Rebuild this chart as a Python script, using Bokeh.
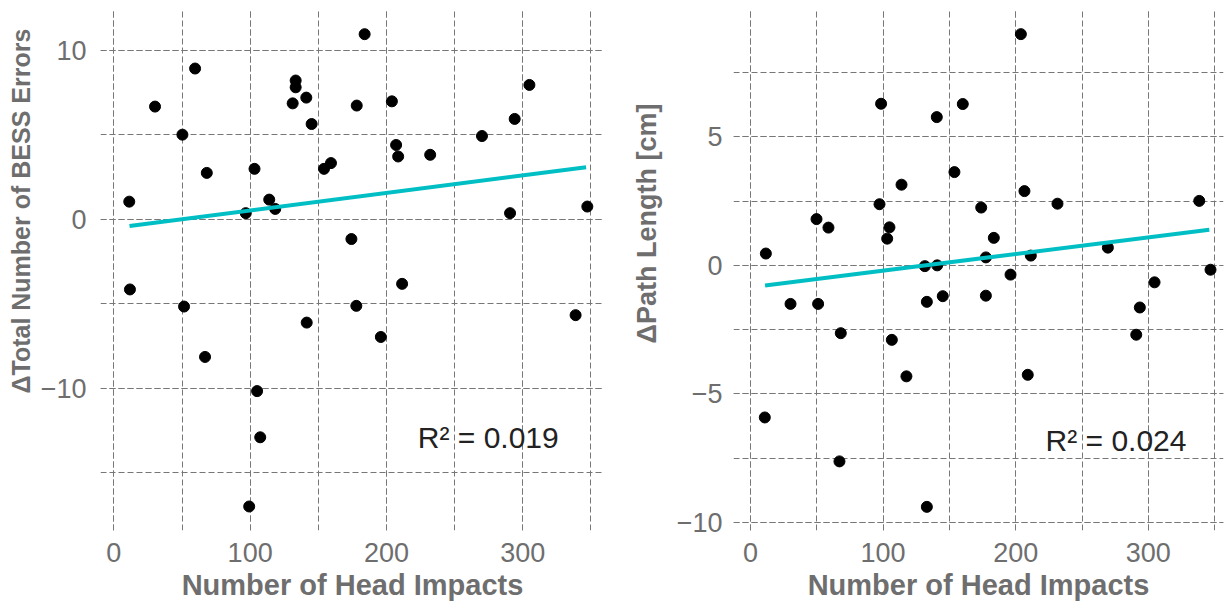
from bokeh.plotting import figure
from bokeh.layouts import row
from bokeh.models import SingleIntervalTicker, Label, Range1d, ColumnDataSource, Title
from bokeh.embed import file_html
from bokeh.resources import INLINE

# ---- data ----
bess_impacts = [184.0, 59.6, 30.2, 133.4, 133.4, 141.2, 131.2, 178.2, 204.0, 304.9,
                145.1, 294.1, 50.3, 270.1, 207.1, 208.6, 232.1, 159.3, 154.2, 103.2,
                68.2, 11.3, 114.0, 118.4, 96.8, 290.7, 347.4, 174.3, 11.8, 211.5,
                51.5, 177.9, 141.5, 195.9, 338.8, 66.9, 105.1, 107.4, 99.3]
bess_delta = [10.94, 8.91, 6.66, 8.20, 7.80, 7.19, 6.85, 6.72, 6.97, 7.94,
              5.63, 5.93, 5.00, 4.92, 4.39, 3.71, 3.81, 3.32, 2.98, 2.98,
              2.74, 1.04, 1.16, 0.61, 0.36, 0.36, 0.75, -1.17, -4.15, -3.82,
              -5.16, -5.12, -6.11, -6.96, -5.67, -8.14, -10.16, -12.89, -16.98]

path_impacts = [203.9, 98.5, 160.1, 140.5, 153.8, 113.9, 206.6, 97.3, 231.5, 338.4,
                174.0, 49.8, 58.8, 104.8, 103.1, 183.5, 11.6, 269.5, 177.5, 211.4,
                131.5, 140.8, 346.9, 196.1, 304.7, 30.2, 51.0, 133.0, 145.0, 177.5,
                293.6, 290.9, 68.1, 106.6, 117.6, 209.1, 10.8, 67.1, 133.0]
path_delta = [9.00, 6.29, 6.28, 5.77, 3.63, 3.14, 2.89, 2.38, 2.40, 2.51,
              2.25, 1.80, 1.47, 1.48, 1.04, 1.07, 0.46, 0.69, 0.31, 0.38,
              -0.03, 0.00, -0.17, -0.36, -0.66, -1.50, -1.50, -1.42, -1.20, -1.18,
              -1.64, -2.70, -2.64, -2.90, -4.32, -4.26, -5.92, -7.63, -9.40]

bess_fit_x = [11.5, 346.5]
bess_fit_y = [-0.40, 3.08]
path_fit_x = [11.0, 346.0]
path_fit_y = [-0.78, 1.39]

bess_r2 = "R\u00b2 = 0.019"
path_r2 = "R\u00b2 = 0.024"
x_title = "Number of Head Impacts"
bess_title = "\u0394Total Number of BESS Errors"
path_title = "\u0394Path Length [cm]"

# ---- styling ----
FONT = "Liberation Sans"
GRID = "#777777"
TXT = "#6e6e6e"
TEAL = "#00BFC4"


def panel(xs, ys, fx, fy, xr, yr, yint, r2, r2pos, ytitle, yt_size, yt_offset,
          yt_standoff, width, bl, br, ystand):
    p = figure(width=width, height=605, output_backend="svg", toolbar_location=None,
               x_range=Range1d(*xr), y_range=Range1d(*yr),
               min_border_left=bl, min_border_right=br, min_border_top=10,
               min_border_bottom=75)
    p.outline_line_color = None
    p.background_fill_color = "white"
    p.border_fill_color = "white"

    p.xaxis.ticker = SingleIntervalTicker(interval=100, num_minor_ticks=2)
    p.yaxis.ticker = SingleIntervalTicker(interval=yint, num_minor_ticks=2)
    for ax in (p.xaxis, p.yaxis):
        ax.axis_line_color = None
        ax.major_tick_line_color = None
        ax.minor_tick_line_color = None
        ax.major_label_text_font = FONT
        ax.major_label_text_font_size = "27px"
        ax.major_label_text_color = TXT
    p.xaxis.major_label_standoff = 6
    p.yaxis.major_label_standoff = ystand
    p.xaxis.axis_label = x_title
    p.xaxis.axis_label_text_font = FONT
    p.xaxis.axis_label_text_font_size = "29px"
    p.xaxis.axis_label_text_font_style = "bold"
    p.xaxis.axis_label_text_color = TXT
    p.xaxis.axis_label_standoff = 4

    for g in (p.xgrid, p.ygrid):
        g.grid_line_color = GRID
        g.grid_line_dash = "6 3"
        g.grid_line_width = 1
        g.minor_grid_line_color = GRID
        g.minor_grid_line_dash = "6 3"
        g.minor_grid_line_width = 1

    src = ColumnDataSource(dict(x=xs, y=ys))
    p.scatter("x", "y", source=src, size=11, color="black")
    p.line(fx, fy, line_color=TEAL, line_width=4)

    p.add_layout(Label(x=r2pos[0], y=r2pos[1], text=r2, text_font=FONT,
                       text_font_size="30px", text_color="#222222",
                       text_baseline="alphabetic"))
    p.add_layout(Title(text=ytitle, align="left", offset=yt_offset,
                       standoff=yt_standoff, text_font=FONT,
                       text_font_size=yt_size, text_font_style="bold",
                       text_color=TXT), "left")
    return p


p1 = panel(bess_impacts, bess_delta, bess_fit_x, bess_fit_y, (-9.8, 360), (-18.4, 12.34),
           10, bess_r2, (223, -12.9), bess_title, "25px", 137, 5, 612, 100, 8, 8)
p2 = panel(path_impacts, path_delta, path_fit_x, path_fit_y, (-12.8, 356.7), (-10.32, 9.92),
           5, path_r2, (222.5, -6.8), path_title, "27px", 187, 24, 613, 121, 2, 5)

layout = row(p1, p2)
open("out.html", "w").write(file_html(layout, INLINE))
